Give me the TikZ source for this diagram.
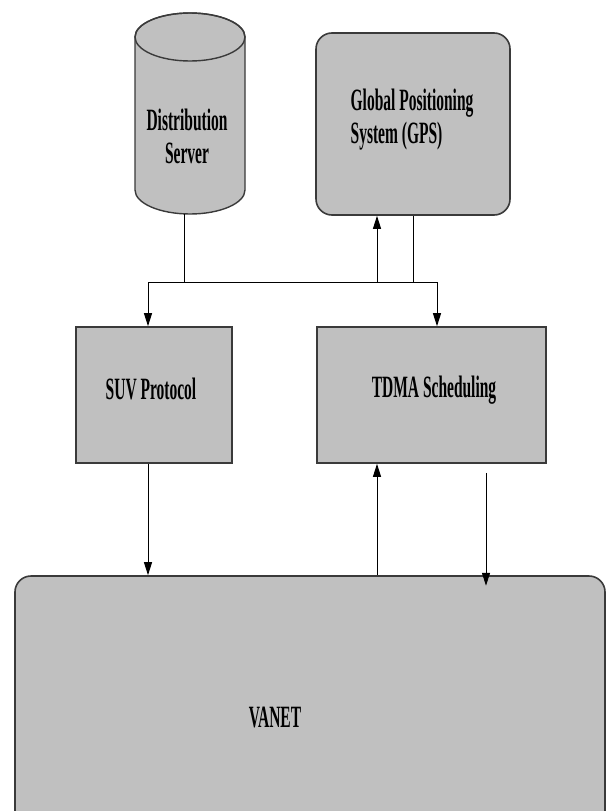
\documentclass[tikz,border=0pt]{standalone}
\usepackage{fontspec}
\setmainfont{Liberation Serif}[FakeStretch=0.5]
\usetikzlibrary{arrows.meta,calc}
\definecolor{boxfill}{HTML}{C0C0C0}
\definecolor{boxline}{HTML}{3A3A3A}
\tikzset{
  box/.style={draw=boxline, line width=1.6pt, fill=boxfill, inner sep=0pt},
  rbox/.style={box, rounded corners=16pt},
  lbl/.style={font=\fontsize{31}{33}\selectfont\bfseries, inner sep=0pt},
  conn/.style={line width=1pt, draw=black},
  arr/.style={conn, -{Triangle[length=13pt,width=8pt]}}
}
\begin{document}
\begin{tikzpicture}[x=1pt,y=-1pt]
\useasboundingbox (0,0) rectangle (606,811);
\clip (0,0) rectangle (606,811);
\fill[white] (0,0) rectangle (606,811);
% cylinder (Distribution Server)
\filldraw[draw=boxline, line width=1.4pt, fill=boxfill]
  (135,37) -- (135,190) arc[start angle=180, end angle=360, x radius=55, y radius=-24]
  -- (245,37) arc[start angle=0, end angle=180, x radius=55, y radius=-24] -- cycle;
\draw[draw=boxline, line width=1.4pt] (190,37) ellipse[x radius=55, y radius=24];
\node[lbl, align=center] (ds) at (187,136) {Distribution\\Server};
\coordinate (dsb) at (184,214);
% boxes
\node[rbox, minimum width=194pt, minimum height=182pt] (gps) at (413,124) {};
\node[lbl, align=left] (gpst) at (412,120) {Global Positioning\\System (GPS)};
\node[box, minimum width=156pt, minimum height=136pt] (suv) at (154,395) {};
\node[lbl] (suvt) at (151,389) {SUV Protocol};
\node[box, minimum width=229pt, minimum height=136pt] (tdma) at (431.5,395) {};
\node[lbl] (tdmat) at (434,390) {TDMA Scheduling};
\node[rbox, minimum width=590pt, minimum height=300pt] (vanet) at (310,726) {};
\node[lbl] (vanett) at (275,717) {VANET};
% connectors
\coordinate (j) at (184,282);
\draw[conn] (dsb) -- (j);
\draw[arr] (j) -| ([xshift=-6pt]suv.north);
\draw[arr] (j) -| ([xshift=5.5pt]tdma.north);
\draw[arr] ([xshift=-36pt]gps.south |- j) -- ([xshift=-36pt]gps.south);
\draw[conn] (gps.south) -- (gps.south |- j);
\draw[arr] ([xshift=-6pt]suv.south) -- ([xshift=-6pt]suv.south |- vanet.north);
\draw[arr] ([xshift=-54.5pt]tdma.south |- vanet.north) -- ([xshift=-54.5pt]tdma.south);
\draw[arr] ([xshift=54.5pt,yshift=-9pt]tdma.south) -- ++(0,113);
\end{tikzpicture}
\end{document}
